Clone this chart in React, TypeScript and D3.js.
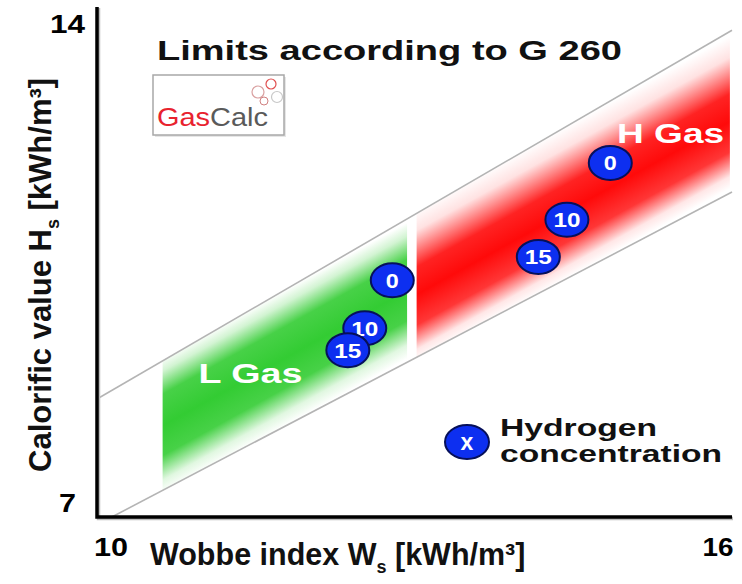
import React from "react";
import * as d3 from "d3";

const WIDTH = 742;
const HEIGHT = 584;

// axis ticks (end labels only)
const xTicks = [10, 16];
const yTicks = [7, 14];

// G 260 limit lines (Wobbe index W, calorific value H)
const limitNames = ["upper", "lower"];
const limitStartW = [10, 10.14];
const limitStartH = [8.62, 7];
const limitEndW = [16, 16];
const limitEndH = [13.68, 11.46];

// gas groups and their Wobbe ranges
const gasNames = ["L Gas", "H Gas"];
const gasColors = ["#33cc33", "#ff0a0a"];
const bandStartW = [10.62, 13.02];
const bandEndW = [12.93, 15.98];

// hydrogen concentration points
const hydrogenLabels = ["0", "10", "15"];
const lGasW = [12.79, 12.53, 12.37];
const lGasH = [10.25, 9.59, 9.29];
const hGasW = [14.85, 14.44, 14.17];
const hGasH = [11.86, 11.08, 10.57];

const FONT = "'Liberation Sans', Arial, Helvetica, sans-serif";

export default function App() {
  const x = d3.scaleLinear().domain([10, 16]).range([97, 732]);
  const y = d3.scaleLinear().domain([7, 14]).range([517, 7]);

  const lines = limitNames.map((_, i) => {
    const x1 = x(limitStartW[i]);
    const y1 = y(limitStartH[i]);
    const x2 = x(limitEndW[i]);
    const y2 = y(limitEndH[i]);
    const m = (y2 - y1) / (x2 - x1);
    return { x1, y1, x2, y2, m, at: (px: number) => y1 + (px - x1) * m };
  });
  const up = lines[0];
  const lo = lines[1];
  const mAvg = (up.m + lo.m) / 2;
  const nLen = Math.sqrt(1 + mAvg * mAvg);
  const nx = -mAvg / nLen;
  const ny = 1 / nLen;

  const bands = gasNames.map((name, i) => {
    const a = x(bandStartW[i]);
    const b = x(bandEndW[i]);
    const xc = (a + b) / 2;
    const yu = up.at(xc);
    const yl = lo.at(xc);
    const my = (yu + yl) / 2;
    const h = ((yl - yu) / 2) / nLen;
    const pts = [
      [a, up.at(a)],
      [b, up.at(b)],
      [b, lo.at(b)],
      [a, lo.at(a)],
    ];
    return {
      name,
      color: gasColors[i],
      path: d3.line()(pts as [number, number][]) + "Z",
      gx1: xc - h * nx,
      gy1: my - h * ny,
      gx2: xc + h * nx,
      gy2: my + h * ny,
    };
  });

  const stopSets = [
    [
      [0, 0],
      [0.1, 0.22],
      [0.27, 0.9],
      [0.5, 1],
      [0.72, 0.9],
      [0.9, 0.15],
      [1, 0],
    ],
    [
      [0, 0],
      [0.14, 0.12],
      [0.38, 0.9],
      [0.56, 1],
      [0.76, 0.82],
      [0.92, 0.1],
      [1, 0],
    ],
  ];

  const line = d3
    .line<[number, number]>()
    .x((d) => x(d[0]))
    .y((d) => y(d[1]));

  const points = [
    ...hydrogenLabels.map((l, i) => ({ l, w: lGasW[i], h: lGasH[i] })),
    ...hydrogenLabels.map((l, i) => ({ l, w: hGasW[i], h: hGasH[i] })),
  ];

  const ellipseFill = "#0d2ff0";
  const ellipseStroke = "#06105a";

  return (
    <svg
      width={WIDTH}
      height={HEIGHT}
      style={{ position: "absolute", left: 0, top: 0, background: "#fff" }}
      fontFamily={FONT}
    >
      <defs>
        {bands.map((b, i) => (
          <linearGradient
            key={i}
            id={`band${i}`}
            gradientUnits="userSpaceOnUse"
            x1={b.gx1}
            y1={b.gy1}
            x2={b.gx2}
            y2={b.gy2}
          >
            {stopSets[i].map(([o, op], k) => (
              <stop key={k} offset={o} stopColor={b.color} stopOpacity={op} />
            ))}
          </linearGradient>
        ))}
      </defs>

      {/* gas bands */}
      {bands.map((b, i) => (
        <path key={i} d={b.path} fill={`url(#band${i})`} />
      ))}

      {/* limit lines */}
      {limitNames.map((n, i) => (
        <path
          key={n}
          d={
            line([
              [limitStartW[i], limitStartH[i]],
              [limitEndW[i], limitEndH[i]],
            ])!
          }
          stroke="#b4b4b4"
          strokeWidth={1.6}
          fill="none"
        />
      ))}

      {/* band labels */}
      <text
        x={x(11.45)}
        y={y(8.84)}
        fill="#fff"
        fontWeight="bold"
        fontSize={28}
        textAnchor="middle"
        textLength={104}
        lengthAdjust="spacingAndGlyphs"
      >
        {gasNames[0]}
      </text>
      <text
        x={x(15.42)}
        y={y(12.13)}
        fill="#fff"
        fontWeight="bold"
        fontSize={28}
        textAnchor="middle"
        textLength={107}
        lengthAdjust="spacingAndGlyphs"
      >
        {gasNames[1]}
      </text>

      {/* hydrogen points */}
      {points.map((p, i) => (
        <g key={i} transform={`translate(${x(p.w)},${y(p.h)})`}>
          <ellipse rx={21.5} ry={17} fill={ellipseFill} stroke={ellipseStroke} strokeWidth={2} />
          <text
            y={7.5}
            fill="#fff"
            fontWeight="bold"
            fontSize={21}
            textAnchor="middle"
            textLength={p.l.length > 1 ? 27 : 13}
            lengthAdjust="spacingAndGlyphs"
          >
            {p.l}
          </text>
        </g>
      ))}

      {/* axes */}
      <path d="M98.5,8 V518.5 H733" stroke="#bbb" strokeWidth={3.5} fill="none" />
      <path d={`M${x(10)},${y(14)} V${y(7)} H${x(16)}`} stroke="#000" strokeWidth={3.5} fill="none" />

      {/* tick labels */}
      <text x={x(xTicks[0]) + 14} y={556} fontWeight="bold" fontSize={25} textAnchor="middle" textLength={34} lengthAdjust="spacingAndGlyphs">
        {xTicks[0]}
      </text>
      <text x={x(xTicks[1]) - 14} y={556} fontWeight="bold" fontSize={25} textAnchor="middle" textLength={31} lengthAdjust="spacingAndGlyphs">
        {xTicks[1]}
      </text>
      <text x={85} y={y(yTicks[1]) + 26} fontWeight="bold" fontSize={25} textAnchor="end" textLength={35} lengthAdjust="spacingAndGlyphs">
        {yTicks[1]}
      </text>
      <text x={76} y={y(yTicks[0]) - 5} fontWeight="bold" fontSize={25} textAnchor="end" textLength={17} lengthAdjust="spacingAndGlyphs">
        {yTicks[0]}
      </text>

      {/* axis titles */}
      <text x={150} y={565} fontWeight="bold" fontSize={30.5} fill="#111">
        Wobbe index W
        <tspan fontSize={18} dy={8}>s</tspan>
        <tspan dy={-8}> [kWh/m³]</tspan>
      </text>
      <text
        transform="translate(51,472) rotate(-90)"
        fontWeight="bold"
        fontSize={31}
        fill="#111"
      >
        Calorific value H
        <tspan fontSize={18} dy={8}>s</tspan>
        <tspan dy={-8}> [kWh/m³]</tspan>
      </text>

      {/* title */}
      <text x={157} y={60} fontWeight="bold" fontSize={28} fill="#111" textLength={465} lengthAdjust="spacingAndGlyphs">
        Limits according to G 260
      </text>

      {/* GasCalc logo */}
      <rect x={155} y={77} width={131} height={60} fill="#e6e6e6" />
      <rect x={153} y={75} width={131} height={60} fill="#fff" stroke="#a8a8a8" strokeWidth={1.5} />
      <circle cx={258} cy={92} r={6} fill="none" stroke="#d9a0a0" strokeWidth={1.2} />
      <circle cx={271} cy={84} r={5} fill="none" stroke="#e05050" strokeWidth={1.2} />
      <circle cx={277} cy={97} r={5.5} fill="none" stroke="#c8c8c8" strokeWidth={1.2} />
      <circle cx={264} cy={101} r={4} fill="none" stroke="#d08080" strokeWidth={1} />
      <text x={157} y={126} fontSize={25} textLength={111} lengthAdjust="spacingAndGlyphs">
        <tspan fill="#e8222e">Gas</tspan>
        <tspan fill="#5a5a5a">Calc</tspan>
      </text>

      {/* legend */}
      <ellipse cx={467} cy={442} rx={22} ry={17} fill={ellipseFill} stroke={ellipseStroke} strokeWidth={2} />
      <text x={467} y={450} fill="#fff" fontWeight="bold" fontSize={23} textAnchor="middle">
        x
      </text>
      <text x={500} y={436} fontWeight="bold" fontSize={24} fill="#111" textLength={157} lengthAdjust="spacingAndGlyphs">
        Hydrogen
      </text>
      <text x={500} y={462} fontWeight="bold" fontSize={24} fill="#111" textLength={222} lengthAdjust="spacingAndGlyphs">
        concentration
      </text>
    </svg>
  );
}
